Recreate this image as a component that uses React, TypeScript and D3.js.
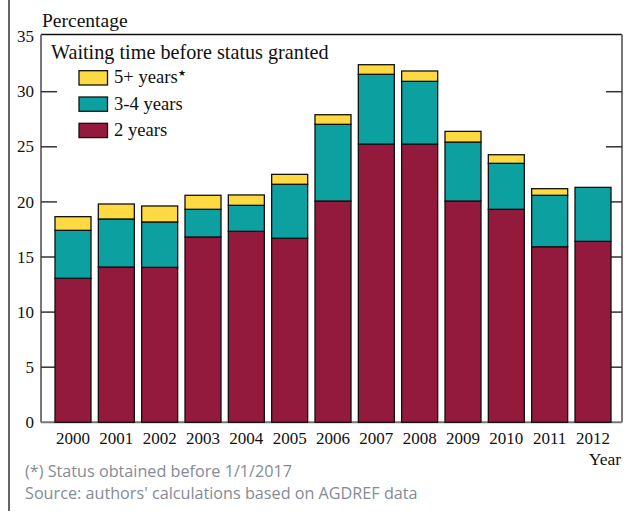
import React from "react";
import * as d3 from "d3";

const years = ["2000","2001","2002","2003","2004","2005","2006","2007","2008","2009","2010","2011","2012"];
const twoYears = [13.07, 14.09, 14.06, 16.82, 17.33, 16.70, 20.08, 25.25, 25.25, 20.08, 19.33, 15.93, 16.42];
const threeFourYears = [4.35, 4.36, 4.12, 2.51, 2.36, 4.90, 6.96, 6.33, 5.69, 5.35, 4.17, 4.67, 4.90];
const fivePlusYears = [1.24, 1.36, 1.45, 1.27, 0.94, 0.90, 0.87, 0.87, 0.94, 0.97, 0.78, 0.60, 0];
const yTicks = [0, 5, 10, 15, 20, 25, 30, 35];
const seriesNames = ["2 years", "3-4 years", "5+ years"];
const seriesColors = ["#931A3C", "#0CA0A1", "#FFD941"];
const legendOrder = [2, 1, 0];

const W = 631, H = 514;
const left = 41, right = 622, top = 34.5, bottom = 422.3;

const serif = "Liberation Serif, Times New Roman, DejaVu Serif, serif";
const sans = "Open Sans, Noto Sans, sans-serif";
const serifStyle = { fontFamily: serif };
const sansStyle = { fontFamily: sans };

export default function App() {
  const y = d3.scaleLinear().domain([0, 35]).range([bottom, 36.6]);
  const x = d3.scaleBand<string>().domain(years).range([51.33, 614.67]).paddingInner(0.169).paddingOuter(0.0846);
  const data = years.map((yr, i) => ({ year: yr, s0: twoYears[i], s1: threeFourYears[i], s2: fivePlusYears[i] }));
  const stack = d3.stack<any>().keys(["s0", "s1", "s2"]);
  const layers = stack(data);

  return (
    <svg width={W} height={H} style={{ position: "absolute", left: 0, top: 0 }}>
      <rect x={0} y={0} width={W} height={H} fill="#fff" />
      <line x1={9} x2={9} y1={0} y2={511} stroke="#333" strokeWidth={1.5} />
      <line x1={left} x2={right} y1={top} y2={top} stroke="#111" strokeWidth={1.5} />
      <line x1={right} x2={right} y1={top} y2={bottom} stroke="#777" strokeWidth={2} />
      <line x1={left} x2={left} y1={top} y2={bottom} stroke="#777" strokeWidth={2} />
      <line x1={left} x2={right} y1={bottom} y2={bottom} stroke="#777" strokeWidth={2} />
      {yTicks.map(t => (
        <g key={t}>
          {t > 0 && t < 35 && (
            <>
              <line x1={left} x2={left + 16} y1={y(t)} y2={y(t)} stroke="#333" strokeWidth={1.5} />
              <line x1={right - 16} x2={right} y1={y(t)} y2={y(t)} stroke="#333" strokeWidth={1.5} />
            </>
          )}
          <text x={34} y={y(t)} dy="0.33em" textAnchor="end" style={serifStyle} fontSize={17} fill="#111">{t}</text>
        </g>
      ))}
      <text x={42} y={27} style={serifStyle} fontSize={19.5} fill="#111">Percentage</text>
      {layers.map((layer, li) => (
        <g key={li}>
          {layer.map((d, i) => (
            d[1] - d[0] > 0 ? (
              <rect key={i} x={x(years[i])} y={y(d[1])} width={x.bandwidth()} height={y(d[0]) - y(d[1])}
                fill={seriesColors[li]} stroke="#111" strokeWidth={1.3} />
            ) : null
          ))}
        </g>
      ))}
      {years.map(yr => (
        <text key={yr} x={(x(yr) as number) + x.bandwidth() / 2} y={444} textAnchor="middle" style={serifStyle} fontSize={17} fill="#111">{yr}</text>
      ))}
      <text x={621} y={465} textAnchor="end" style={serifStyle} fontSize={17.5} fill="#111">Year</text>
      <text x={51} y={59} style={serifStyle} fontSize={20.2} fill="#111">Waiting time before status granted</text>
      {legendOrder.map((si, k) => {
        const by = 70.7 + k * 26.3;
        return (
          <g key={si}>
            <rect x={79} y={by} width={28.5} height={14.3} fill={seriesColors[si]} stroke="#111" strokeWidth={1.3} />
            <text x={114} y={by + 12.6} style={serifStyle} fontSize={18.6} fill="#111">
              {seriesNames[si]}
              {si === 2 && <tspan fontSize={9} dy={-7}>★</tspan>}
            </text>
          </g>
        );
      })}
      <text x={25} y={477} style={sansStyle} fontSize={16.2} fill="#858b96">(*) Status obtained before 1/1/2017</text>
      <text x={25} y={499} style={sansStyle} fontSize={16.2} fill="#858b96">Source: authors' calculations based on AGDREF data</text>
    </svg>
  );
}
